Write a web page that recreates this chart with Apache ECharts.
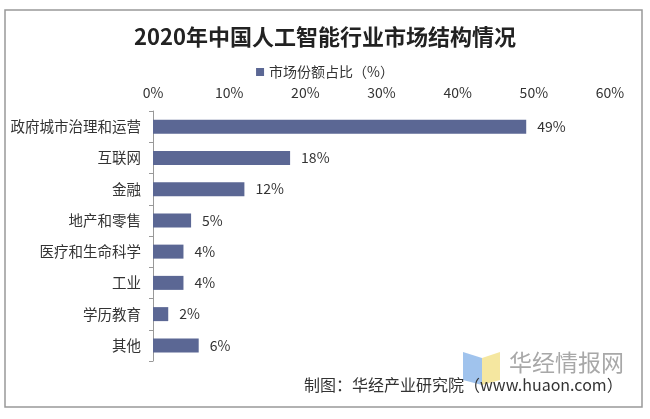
<!DOCTYPE html>
<html><head><meta charset="utf-8">
<script src="https://cdn.jsdelivr.net/npm/echarts@6/dist/echarts.min.js"></script>
<style>html,body{margin:0;padding:0;background:#fff;}#c{width:650px;height:419px;}</style>
</head><body><div id="c"></div>
<script>
const categories = ['政府城市治理和运营','互联网','金融','地产和零售','医疗和生命科学','工业','学历教育','其他'];
const values = [49,18,12,5,4,4,2,6];
const seriesName = '市场份额占比（%）';
const titleText = '2020年中国人工智能行业市场结构情况';
const footerText = '制图：华经产业研究院（www.huaon.com）';
const watermarkText = '华经情报网';

const chart = echarts.init(document.getElementById('c'));
const font = '"Noto Sans CJK SC", "Noto Sans", sans-serif';
chart.setOption({
  backgroundColor: '#fff',
  textStyle: {fontFamily: font},
  title: {text: titleText, left: 'center', top: 21,
    textStyle: {fontSize: 22, fontWeight: 'bold', color: '#222', fontFamily: font}},
  legend: {data: [seriesName], top: 60, left: 'center', icon: 'rect', itemWidth: 8, itemHeight: 8, itemGap: 4,
    textStyle: {fontSize: 14, color: '#333'}},
  grid: {left: 153, right: 40, top: 111, bottom: 58},
  xAxis: {type: 'value', position: 'top', min: 0, max: 60, interval: 10,
    axisLabel: {formatter: '{value}%', fontSize: 14, color: '#333', margin: 11},
    axisLine: {show: false}, axisTick: {show: false}, splitLine: {show: false}},
  yAxis: {type: 'category', data: categories, inverse: true,
    axisLine: {show: true, lineStyle: {color: '#999'}},
    axisTick: {show: true, length: 4, lineStyle: {color: '#999'}},
    axisLabel: {fontSize: 14.5, color: '#333', margin: 12}},
  series: [{name: seriesName, type: 'bar', data: values, barWidth: 14,
    itemStyle: {color: '#5b6794'},
    label: {show: true, position: 'right', distance: 11, formatter: '{c}%', fontSize: 14, color: '#333'}}],
  graphic: [
    {type: 'rect', shape: {x: 5, y: 10, width: 637, height: 397}, style: {fill: 'none', stroke: '#999', lineWidth: 1.5}, z: 10},
    {type: 'polygon', shape: {points: [[463,352],[482,358],[482,385],[463,380]]}, style: {fill: '#8fb8ea', opacity: 0.85}},
    {type: 'polygon', shape: {points: [[482,358],[500,352],[500,380],[482,385]]}, style: {fill: '#f3e38f', opacity: 0.85}},
    {type: 'text', left: 509, top: 351, style: {text: watermarkText, fontSize: 23, fill: '#a8a8a8', fontFamily: font}},
    {type: 'text', left: 304, top: 377, style: {text: footerText, fontSize: 16, fill: '#333', fontFamily: font}}
  ]
});
</script></body></html>
